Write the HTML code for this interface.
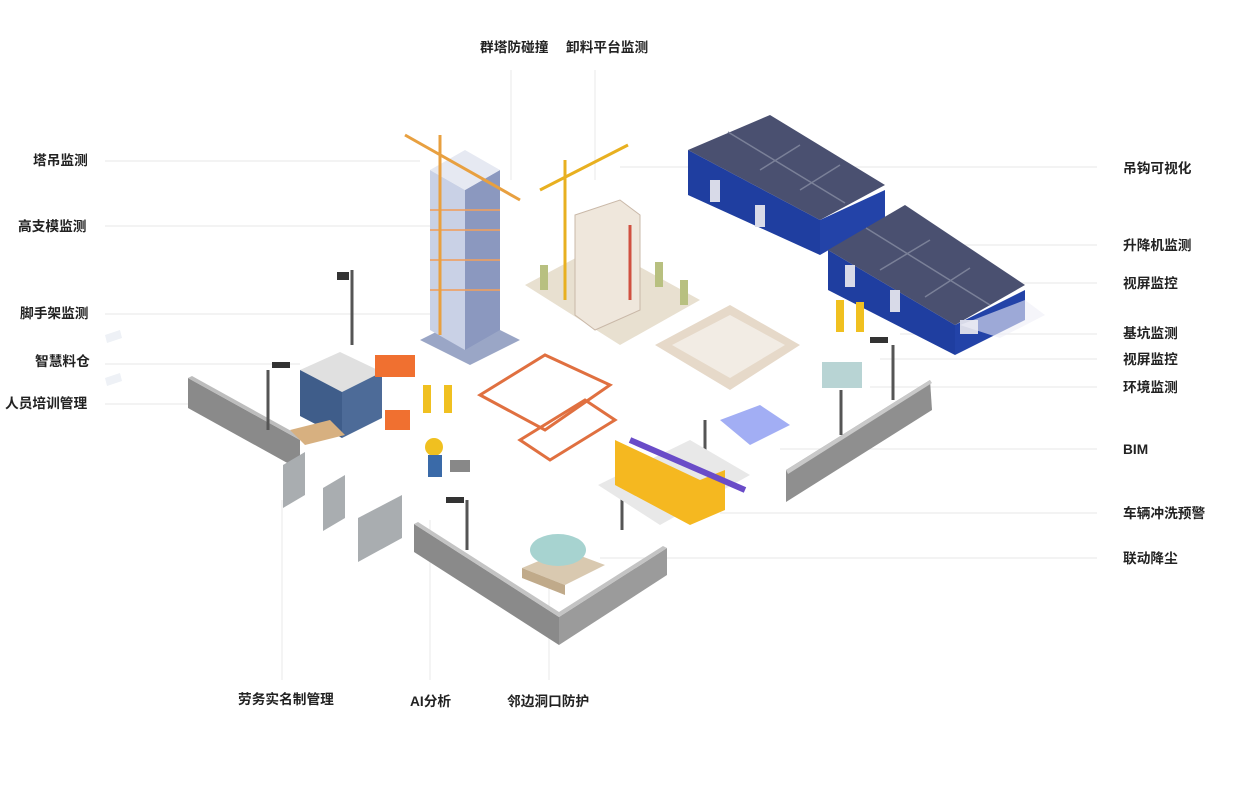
<!DOCTYPE html>
<html><head><meta charset="utf-8"><style>
html,body{margin:0;padding:0;background:#fff;width:1240px;height:800px;overflow:hidden}
svg{display:block}
text{font-family:"Liberation Sans","Noto Sans CJK SC",sans-serif;font-size:13.7px;fill:#222;font-weight:bold}
</style></head><body>
<svg width="1240" height="800" viewBox="0 0 1240 800">
<g stroke="#ececec" stroke-width="1.2">
<line x1="105" y1="161" x2="420" y2="161"/>
<line x1="105" y1="226" x2="430" y2="226"/>
<line x1="105" y1="314" x2="430" y2="314"/>
<line x1="105" y1="364" x2="300" y2="364"/>
<line x1="105" y1="404" x2="190" y2="404"/>
<line x1="620" y1="167" x2="1097" y2="167"/>
<line x1="900" y1="245" x2="1097" y2="245"/>
<line x1="1000" y1="283" x2="1097" y2="283"/>
<line x1="900" y1="334" x2="1097" y2="334"/>
<line x1="880" y1="359" x2="1097" y2="359"/>
<line x1="870" y1="387" x2="1097" y2="387"/>
<line x1="780" y1="449" x2="1097" y2="449"/>
<line x1="720" y1="513" x2="1097" y2="513"/>
<line x1="600" y1="558" x2="1097" y2="558"/>
<line x1="511" y1="70" x2="511" y2="180"/>
<line x1="595" y1="70" x2="595" y2="180"/>
<line x1="282" y1="500" x2="282" y2="680"/>
<line x1="430" y1="520" x2="430" y2="680"/>
<line x1="549" y1="560" x2="549" y2="680"/>
</g>
<polygon points="105,335 120,330 122,338 107,343" fill="#eef1f6"/>
<polygon points="105,378 120,373 122,381 107,386" fill="#eef1f6"/>
<!-- walls -->
<polygon points="188,378 300,440 300,470 188,408" fill="#8a8a8a"/>
<polygon points="188,378 192,376 304,438 300,440" fill="#bdbdbd"/>
<polygon points="414,524 559,617 559,645 414,552" fill="#8a8a8a"/>
<polygon points="559,617 667,548 667,575 559,645" fill="#9b9b9b"/>
<polygon points="414,524 418,522 559,612 663,546 667,548 559,617" fill="#c4c4c4"/>
<polygon points="786,470 930,380 932,410 786,502" fill="#8f8f8f"/>
<polygon points="786,470 930,380 932,383 788,474" fill="#c9c9c9"/>
<!-- tower building -->
<polygon points="420,340 470,365 520,340 470,315" fill="#9aa6c6"/>
<polygon points="430,170 465,190 465,350 430,330" fill="#c9d1e6"/>
<polygon points="465,190 500,170 500,330 465,350" fill="#8b98bf"/>
<polygon points="430,170 465,150 500,170 465,190" fill="#e6e9f2"/>
<g stroke="#f0a060" stroke-width="2" opacity="0.8">
<line x1="430" y1="210" x2="500" y2="210"/><line x1="430" y1="230" x2="500" y2="230"/>
<line x1="430" y1="260" x2="500" y2="260"/><line x1="430" y1="290" x2="500" y2="290"/>
</g>
<line x1="440" y1="135" x2="440" y2="335" stroke="#e8a040" stroke-width="3"/>
<line x1="405" y1="135" x2="520" y2="200" stroke="#e8a040" stroke-width="3"/>
<!-- construction site 2 -->
<polygon points="525,285 600,245 700,300 620,345" fill="#e8e0d0"/>
<g fill="#b8c080"><rect x="540" y="265" width="8" height="25"/><rect x="655" y="262" width="8" height="25"/><rect x="680" y="280" width="8" height="25"/></g>
<polygon points="575,215 620,200 640,215 640,310 595,330 575,315" fill="#efe7dc" stroke="#c9b8a8"/>
<line x1="630" y1="225" x2="630" y2="300" stroke="#d05040" stroke-width="3"/>
<line x1="565" y1="160" x2="565" y2="300" stroke="#e8b020" stroke-width="3"/>
<line x1="540" y1="190" x2="628" y2="145" stroke="#e8b020" stroke-width="3"/>
<!-- pit -->
<polygon points="655,345 730,305 800,345 730,390" fill="#e6d9c9"/>
<polygon points="672,345 730,315 785,345 730,378" fill="#f2ece4"/>
<!-- warehouses -->
<polygon points="688,150 820,220 820,255 688,195" fill="#1f3ea0"/>
<polygon points="820,220 885,190 885,218 820,255" fill="#2343a8"/>
<polygon points="688,150 770,115 885,185 820,220" fill="#4a5070"/>
<g stroke="#7a8098" stroke-width="1.5"><line x1="728" y1="132" x2="845" y2="203"/><line x1="760" y1="170" x2="800" y2="145"/><line x1="800" y1="190" x2="840" y2="165"/></g>
<polygon points="828,250 955,325 955,355 828,290" fill="#1f3ea0"/>
<polygon points="955,325 1025,290 1025,320 955,355" fill="#2343a8"/>
<polygon points="828,250 905,205 1025,285 955,325" fill="#4a5070"/>
<g stroke="#7a8098" stroke-width="1.5"><line x1="866" y1="228" x2="990" y2="305"/><line x1="880" y1="270" x2="930" y2="240"/><line x1="925" y1="297" x2="970" y2="268"/></g>
<g fill="#d8dae8"><rect x="710" y="180" width="10" height="22"/><rect x="755" y="205" width="10" height="22"/><rect x="845" y="265" width="10" height="22"/><rect x="890" y="290" width="10" height="22"/><rect x="960" y="320" width="18" height="14"/></g>
<polygon points="1025,300 1045,315 1000,338 960,325" fill="#eeeef6" opacity="0.6"/>
<!-- barrier zone -->
<g stroke="#e07040" stroke-width="3" fill="none">
<polygon points="480,395 545,355 610,385 545,430"/>
<polygon points="520,440 585,400 615,420 550,460"/>
</g>
<!-- warehouse left -->
<polygon points="300,370 340,352 382,372 342,392" fill="#e0e0e0"/>
<polygon points="300,370 342,392 342,438 300,416" fill="#3f5d8a"/>
<polygon points="342,392 382,372 382,418 342,438" fill="#4d6b98"/>
<rect x="375" y="355" width="40" height="22" fill="#f07030"/>
<rect x="385" y="410" width="25" height="20" fill="#f07030"/>
<polygon points="290,430 330,420 345,435 305,445" fill="#d7b080"/>
<!-- poles -->
<g stroke="#555" stroke-width="3">
<line x1="352" y1="270" x2="352" y2="345"/>
<line x1="268" y1="370" x2="268" y2="430"/>
<line x1="467" y1="500" x2="467" y2="550"/>
<line x1="893" y1="345" x2="893" y2="400"/>
<line x1="841" y1="390" x2="841" y2="435"/>
<line x1="622" y1="470" x2="622" y2="530"/>
<line x1="705" y1="420" x2="705" y2="450"/>
</g>
<g fill="#333"><rect x="337" y="272" width="12" height="8"/><rect x="272" y="362" width="18" height="6"/><rect x="446" y="497" width="18" height="6"/><rect x="870" y="337" width="18" height="6"/></g>
<rect x="822" y="362" width="40" height="26" fill="#b8d4d4"/>
<!-- gates -->
<g fill="#a9adb0">
<polygon points="283,465 305,452 305,495 283,508"/>
<polygon points="323,488 345,475 345,518 323,531"/>
<polygon points="358,518 402,495 402,538 358,562"/>
</g>
<!-- crane truck -->
<polygon points="598,485 690,440 750,475 660,525" fill="#e8e8e8"/>
<polygon points="615,440 700,480 725,470 725,510 690,525 615,485" fill="#f5b820"/>
<line x1="630" y1="440" x2="745" y2="490" stroke="#6a4cc8" stroke-width="6"/>
<polygon points="720,420 760,405 790,425 750,445" fill="#7b8cf0" opacity="0.7"/>
<!-- dust unit -->
<polygon points="522,568 565,550 605,565 565,585" fill="#d9c9b0"/>
<polygon points="522,568 565,585 565,595 522,578" fill="#c0aa8a"/>
<ellipse cx="558" cy="550" rx="28" ry="16" fill="#a7d3d0"/>
<!-- workers -->
<g fill="#f0c020"><rect x="423" y="385" width="8" height="28"/><rect x="444" y="385" width="8" height="28"/>
<rect x="836" y="300" width="8" height="32"/><rect x="856" y="302" width="8" height="30"/></g>
<circle cx="434" cy="447" r="9" fill="#f0c020"/><rect x="428" y="455" width="14" height="22" fill="#3a6aa8"/>
<rect x="450" y="460" width="20" height="12" fill="#888"/>
<text x="480" y="52">群塔防碰撞</text>
<text x="566" y="52">卸料平台监测</text>
<text x="33" y="165">塔吊监测</text>
<text x="18" y="231">高支模监测</text>
<text x="20" y="318">脚手架监测</text>
<text x="35" y="366">智慧料仓</text>
<text x="5" y="408">人员培训管理</text>
<text x="1123" y="173">吊钩可视化</text>
<text x="1123" y="250">升降机监测</text>
<text x="1123" y="288">视屏监控</text>
<text x="1123" y="338">基坑监测</text>
<text x="1123" y="364">视屏监控</text>
<text x="1123" y="392">环境监测</text>
<text x="1123" y="454">BIM</text>
<text x="1123" y="518">车辆冲洗预警</text>
<text x="1123" y="563">联动降尘</text>
<text x="238" y="704">劳务实名制管理</text>
<text x="410" y="706">AI分析</text>
<text x="507" y="706">邻边洞口防护</text>
</svg>
</body></html>
